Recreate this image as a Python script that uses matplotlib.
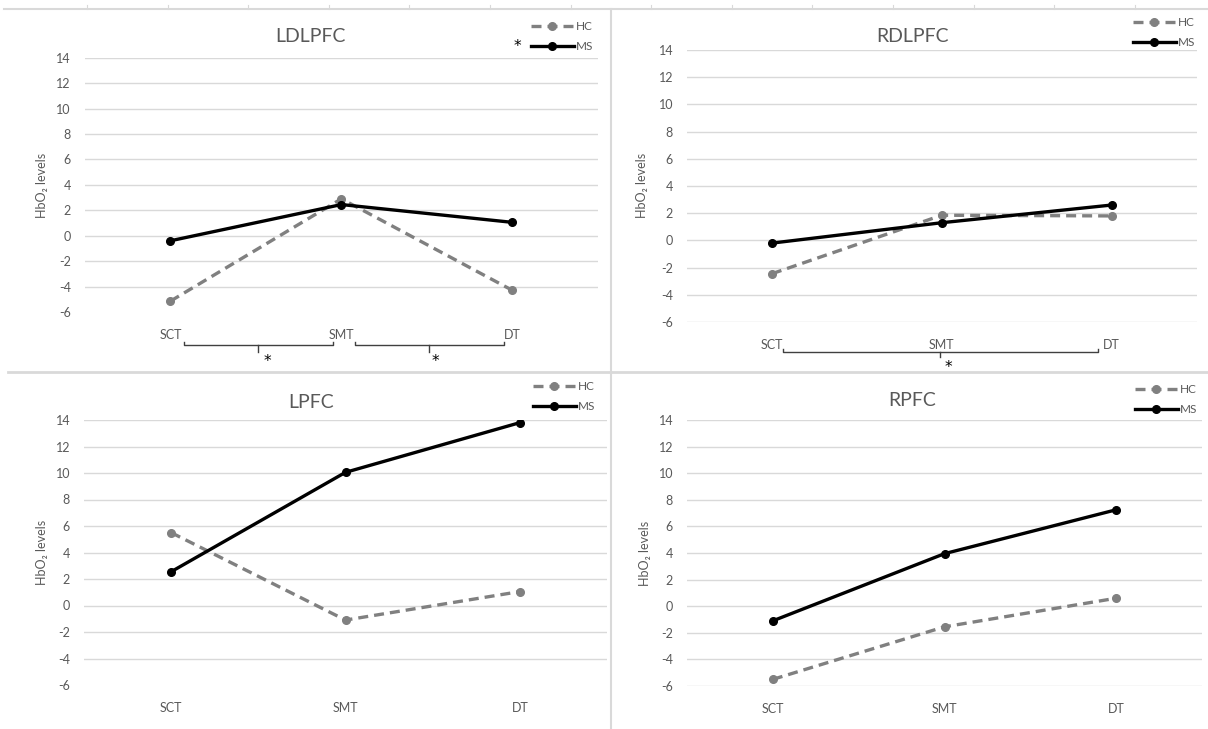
import matplotlib
matplotlib.use("Agg")
import matplotlib.pyplot as plt

plt.rcParams['font.family'] = ['Lato', 'DejaVu Sans']
plt.rcParams['axes.unicode_minus'] = False

categories = ["SCT", "SMT", "DT"]
titles = ["LDLPFC", "RDLPFC", "LPFC", "RPFC"]
hc_ldlpfc = [-5.15, 2.9, -4.3]
ms_ldlpfc = [-0.4, 2.45, 1.05]
hc_rdlpfc = [-2.45, 1.85, 1.8]
ms_rdlpfc = [-0.2, 1.3, 2.6]
hc_lpfc = [5.5, -1.1, 1.05]
ms_lpfc = [2.55, 10.05, 13.8]
hc_rpfc = [-5.5, -1.55, 0.6]
ms_rpfc = [-1.1, 3.95, 7.25]
yticks = [-6, -4, -2, 0, 2, 4, 6, 8, 10, 12, 14]

W, H = 1208, 729
fig = plt.figure(figsize=(W / 100, H / 100), dpi=100)

# background frame lines (pixel coords)
bg = fig.add_axes([0, 0, 1, 1])
bg.set_xlim(0, W)
bg.set_ylim(H, 0)
bg.axis('off')
grid_c = '#d9d9d9'
bg.plot([4, W], [8.5, 8.5], color=grid_c, lw=1.5)
for k in range(15):
    xx = 87 + 80.6 * k
    if xx < W:
        bg.plot([xx, xx], [5, 8.5], color=grid_c, lw=0.8)
bg.plot([611, 611], [8.5, H], color=grid_c, lw=1.5)
bg.plot([8, W], [372, 372], color=grid_c, lw=2)

panels = [
    dict(box=(84.8, 598, 57.7, 312), title=(310, 37), ylab=(42, 185), leg=(531, 29), hide=True,
         hc=hc_ldlpfc, ms=ms_ldlpfc),
    dict(box=(687, 1196.5, 50, 322), title=(912, 37), ylab=(642, 185), leg=(1133, 25), hide=False,
         hc=hc_rdlpfc, ms=ms_rdlpfc),
    dict(box=(84, 607, 420, 685), title=(311, 402), ylab=(42, 552), leg=(533, 389), hide=True,
         hc=hc_lpfc, ms=ms_lpfc),
    dict(box=(687, 1202, 420, 686), title=(912, 400), ylab=(645, 553), leg=(1135, 392), hide=False,
         hc=hc_rpfc, ms=ms_rpfc),
]

text_c = '#595959'
axes = []
for i, p in enumerate(panels):
    l, r, t, b = p['box']
    ax = fig.add_axes([l / W, 1 - b / H, (r - l) / W, (b - t) / H])
    axes.append(ax)
    x = list(range(len(categories)))
    ax.plot(x, p['hc'], color='#808080', lw=2.4, ls=(0, (3.0, 1.8)), marker='o', ms=5.5,
            label='HC', zorder=3)
    ax.plot(x, p['ms'], color='black', lw=2.4, marker='o', ms=5.5, label='MS', zorder=4)
    ax.set_xlim(-0.5, 2.5)
    ax.set_ylim(-6, 14)
    ax.set_yticks(yticks)
    ax.set_xticks(x)
    ax.set_xticklabels(categories)
    for s in ax.spines.values():
        s.set_visible(False)
    ax.tick_params(axis='both', length=0, labelsize=9, labelcolor=text_c)
    ax.tick_params(axis='y', pad=10)
    ax.tick_params(axis='x', pad=12)
    ax.yaxis.grid(True, color=grid_c, lw=1)
    ax.set_axisbelow(True)
    if p['hide']:
        ax.get_ygridlines()[0].set_visible(False)
    fig.text(p['title'][0] / W, 1 - p['title'][1] / H, titles[i], ha='center', va='center',
             fontsize=14, color=text_c)
    fig.text(p['ylab'][0] / W, 1 - p['ylab'][1] / H, "HbO\u2082 levels", rotation=90,
             ha='center', va='center', fontsize=9, color=text_c)
    lx, ly = p['leg']
    leg = ax.legend(loc='upper left', bbox_to_anchor=(lx / W, 1 - (ly - 8) / H),
                    bbox_transform=fig.transFigure, frameon=False, fontsize=8.5,
                    handlelength=3.6, handletextpad=0.2, labelspacing=0.78,
                    borderpad=0, borderaxespad=0)
    for txt in leg.get_texts():
        txt.set_color(text_c)

star_kw = dict(ha='center', va='baseline', fontsize=11, color='black', family='DejaVu Sans',
               clip_on=False)

# significance brackets, LDLPFC
ax1 = axes[0]
for (x0, x1, xm, xa) in [(0.08, 0.95, 0.51, 0.565), (1.078, 1.948, 1.51, 1.55)]:
    ax1.plot([x0, x0, x1, x1], [-8.35, -8.6, -8.6, -8.35], color='#404040', lw=1, clip_on=False)
    ax1.plot([xm, xm], [-8.6, -9.15], color='#404040', lw=1, clip_on=False)
    ax1.text(xa, -10.25, '*', **star_kw)
fig.text(517 / W, 1 - 51 / H, '*', **star_kw)

# significance bracket, RDLPFC
ax2 = axes[1]
ax2.plot([0.066, 0.066, 1.92, 1.92], [-8.0, -8.2, -8.2, -8.0], color='#404040', lw=1, clip_on=False)
ax2.plot([0.99, 0.99], [-8.2, -8.6], color='#404040', lw=1, clip_on=False)
ax2.text(1.04, -9.68, '*', **star_kw)

fig.savefig('out.png', dpi=100)
